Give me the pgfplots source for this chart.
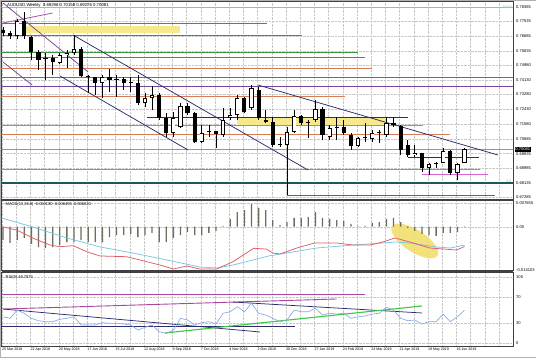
\documentclass[border=0pt]{standalone}
\usepackage{fontspec}
\setmainfont{Liberation Sans}
\usepackage{pgfplots}
\usepackage{pgfplotstable}
\pgfplotsset{compat=1.18}

\definecolor{mtgreen}{RGB}{60,150,60}
\definecolor{mtorange}{RGB}{215,125,85}
\definecolor{mtsalmon}{RGB}{225,120,100}
\definecolor{mtmagenta}{RGB}{170,70,160}
\definecolor{mtpurple}{RGB}{120,70,150}
\definecolor{mtnavy}{RGB}{45,45,110}
\definecolor{mtteal}{RGB}{30,85,95}
\definecolor{mtcyan}{RGB}{120,200,210}
\definecolor{mtyellow}{RGB}{248,232,140}
\definecolor{mthist}{RGB}{110,110,90}
\definecolor{mtred}{RGB}{220,95,105}
\definecolor{mtblue}{RGB}{120,200,230}
\definecolor{rsiblue}{RGB}{130,170,230}
\definecolor{rsigreen}{RGB}{60,200,60}
\definecolor{ellipsey}{RGB}{242,222,110}
\definecolor{lowpurple}{RGB}{100,90,170}
\definecolor{lightmag}{RGB}{215,100,215}

\pgfplotstableread{
i O H L C
2 0.76694 0.77685 0.76519 0.77569
8 0.75120 0.75703 0.75062 0.75586
9 0.75586 0.75878 0.74829 0.75703
10 0.75703 0.76752 0.75586 0.75936
14 0.73954 0.74420 0.73080 0.74304
20 0.72788 0.73371 0.72555 0.73080
21 0.73080 0.73779 0.72380 0.73254
24 0.71039 0.72263 0.70806 0.71914
25 0.71389 0.72788 0.71331 0.72613
28 0.70514 0.71505 0.70456 0.71039
31 0.70922 0.72497 0.70806 0.71797
32 0.71914 0.72497 0.71797 0.72088
33 0.72088 0.73254 0.71797 0.73080
35 0.72497 0.73837 0.72380 0.73663
40 0.70339 0.71389 0.67400 0.71097
41 0.71097 0.72380 0.71039 0.72030
44 0.71797 0.72963 0.71680 0.72438
46 0.70806 0.71505 0.70631 0.71331
47 0.71331 0.71972 0.70631 0.71389
50 0.70281 0.70806 0.70223 0.70748
52 0.70689 0.71214 0.70514 0.71039
54 0.70922 0.71972 0.70806 0.71622
58 0.69756 0.70339 0.69640 0.69873
60 0.68999 0.69290 0.68590 0.69232
62 0.69290 0.70165 0.69290 0.69990
64 0.68707 0.69290 0.68299 0.69232
65 0.69296 0.70158 0.69276 0.70081
}\bull

\pgfplotstableread{
i O H L C
0 0.77044 0.77219 0.76694 0.76869
1 0.76869 0.76986 0.76519 0.76694
3 0.77569 0.78093 0.76519 0.76694
4 0.76636 0.76694 0.75295 0.75761
5 0.75761 0.75878 0.74712 0.75295
6 0.75412 0.75703 0.74129 0.75380
7 0.75412 0.75586 0.74420 0.75178
11 0.75936 0.76053 0.74304 0.74362
12 0.74362 0.74420 0.73371 0.74330
13 0.74304 0.74330 0.73254 0.73954
15 0.74304 0.74770 0.73429 0.74129
16 0.74129 0.74420 0.73138 0.74100
17 0.74187 0.74304 0.73546 0.73954
18 0.73954 0.74304 0.73429 0.73930
19 0.73954 0.74420 0.72671 0.72788
22 0.73254 0.73371 0.71797 0.71914
23 0.71914 0.72205 0.70806 0.71039
26 0.72613 0.72788 0.72088 0.72205
27 0.72205 0.72263 0.70456 0.70514
29 0.71097 0.71505 0.70806 0.71070
30 0.71156 0.71180 0.70165 0.70981
34 0.73080 0.73138 0.72205 0.72263
36 0.73546 0.73721 0.71797 0.71914
37 0.71797 0.72380 0.71622 0.71680
38 0.71680 0.71972 0.70223 0.70339
39 0.70360 0.70806 0.70223 0.70339
42 0.72030 0.72088 0.71505 0.71622
43 0.71680 0.71797 0.70748 0.71622
45 0.72438 0.72555 0.70631 0.70922
48 0.71389 0.71797 0.70922 0.71039
49 0.70922 0.71039 0.70048 0.70281
51 0.70770 0.71622 0.70514 0.70748
53 0.71060 0.71214 0.70456 0.71039
55 0.71622 0.71972 0.71389 0.71505
56 0.71447 0.71505 0.69756 0.70048
57 0.70339 0.70631 0.69640 0.69756
59 0.69873 0.69900 0.68765 0.68999
61 0.69250 0.69348 0.68999 0.69232
63 0.69990 0.70048 0.68590 0.68707
}\bear

\pgfplotstableread{
i v
0 -0.00434
1 -0.00531
2 -0.00434
3 -0.00368
4 -0.00564
5 -0.00662
6 -0.00694
7 -0.00662
8 -0.00597
9 -0.00499
10 -0.00499
11 -0.00434
12 -0.00499
13 -0.00499
14 -0.00499
15 -0.00336
16 -0.00271
17 -0.00271
18 -0.00238
19 -0.00336
20 -0.00271
21 -0.00205
22 -0.00499
23 -0.00499
24 -0.00368
25 -0.00271
26 -0.00173
27 -0.00271
28 -0.00271
29 -0.00205
30 -0.00140
31 0.00023
32 0.00251
33 0.00479
34 0.00544
35 0.00740
36 0.00610
37 0.00544
38 0.00218
39 0.00055
40 0.00153
41 0.00284
42 0.00284
43 0.00316
44 0.00479
45 0.00284
46 0.00251
47 0.00218
48 0.00186
49 0.00088
50 0.00023
51 0.00023
52 0.00121
53 0.00153
54 0.00251
55 0.00284
56 0.00153
57 -0.00042
58 -0.00140
59 -0.00238
60 -0.00271
61 -0.00303
62 -0.00205
63 -0.00205
64 -0.00173
65 -0.00013
}\hist

\pgfplotstableread{
i v
-0.21 0.00000
1.93 -0.00108
4.27 -0.00379
6.62 -0.00597
8.03 -0.00652
9.9 -0.00619
11.8 -0.00815
13.66 -0.00955
17.4 -0.00978
19.3 -0.01086
22.1 -0.01249
24 -0.01379
25.9 -0.01281
27.7 -0.01379
30.1 -0.01379
32.4 -0.01140
35.3 -0.00704
37.1 -0.00730
38.0 -0.00857
39 -0.00890
41.4 -0.00694
43.9 -0.00531
47 -0.00531
49.3 -0.00597
51.7 -0.00597
53.5 -0.00499
55.2 -0.00368
57.3 -0.00499
60.1 -0.00694
62 -0.00727
63.9 -0.00760
65 -0.00646
}\macdred

\pgfplotstableread{
i v
-0.21 0.00284
4.2 -0.00010
9.0 -0.00368
13.7 -0.00662
18.3 -0.00857
23.1 -0.01086
27.7 -0.01314
30.1 -0.01346
32.4 -0.01249
37.4 -0.00955
44.2 -0.00694
49.3 -0.00597
55.5 -0.00499
57.3 -0.00531
61.1 -0.00662
63 -0.00694
65 -0.00602
}\macdblue

\pgfplotstableread{
i v
0 39.8
1 37.4
2 50.0
3 45.0
4 37.4
5 33.8
6 32.3
7 32.3
8 35.9
9 37.4
10 39.8
11 27.3
12 27.3
13 27.3
14 30.8
15 29.8
16 29.8
17 28.8
18 27.3
19 19.7
20 23.8
21 27.3
22 17.1
23 14.7
24 19.7
25 37.4
26 34.8
27 27.3
28 30.8
29 32.3
30 28.8
31 45.0
32 47.4
33 55.0
34 47.4
35 60.2
36 45.0
37 42.4
38 37.4
39 32.3
40 34.8
41 50.0
42 47.4
43 47.4
44 52.6
45 42.4
46 45.0
47 43.9
48 45.0
49 37.4
50 39.8
51 40.9
52 43.9
53 45.0
54 54.1
55 50.0
56 37.4
57 33.8
58 34.8
59 28.8
60 32.3
61 32.3
62 43.9
63 32.3
64 39.8
65 49.8
}\rsi

\pgfplotsset{
  mtbase/.style={
    scale only axis, width=511.5pt, xmin=-0.21, xmax=71.83,
    anchor=north west,
    axis line style={draw=black!75, line width=0.7pt},
    tick style={draw=none},
    xtick={-0.15,1.85,...,69.85}, xticklabels={},
    xmajorgrids, ymajorgrids,
    grid style={densely dotted, black!22, line width=0.3pt},
    ytick pos=right, yticklabel pos=right,
    yticklabel style={font=\fontsize{4.1}{4.5}\selectfont, anchor=west, xshift=2.5pt, inner sep=0.5pt},
    scaled y ticks=false,
  },
  hl/.style={line width=0.75pt, forget plot},
}

\begin{document}
\begin{tikzpicture}
\path[use as bounding box] (0,0) rectangle (536pt,-358pt);
\fill[white] (0,0) rectangle (536pt,-358pt);

% ---------------- main price panel ----------------
\begin{axis}[mtbase, at={(1.5pt,-1.5pt)}, height=197.5pt,
  ymin=0.67191, ymax=0.78706,
  ytick={0.78385,0.77535,0.76685,0.75835,0.74980,0.74130,0.73280,0.72430,0.71580,0.70685,0.69835,0.68985,0.68135,0.67285},
  yticklabels={0.78385,0.77535,0.76685,0.75835,0.74980,0.74130,0.73280,0.72430,0.71580,0.70685,0.69835,0.68985,0.68135,0.67285},
]
\fill[mtyellow] (axis cs:3.1,0.77277) rectangle (axis cs:24.9,0.76869);
\fill[mtyellow] (axis cs:33,0.71972) rectangle (axis cs:53.8,0.71505);

\addplot[hl, mtcyan, line width=0.7pt] coordinates {(-0.3,0.78385) (72,0.78385)};
\addplot[hl, mtgreen] coordinates {(-0.3,0.77452) (37.2,0.77452)};
\addplot[hl, mtgreen] coordinates {(-0.3,0.76752) (42.1,0.76752)};
\addplot[hl, mtgreen] coordinates {(-0.3,0.75761) (50,0.75761)};
\addplot[hl, mtgreen] coordinates {(-0.3,0.75470) (51,0.75470)};
\addplot[hl, mtorange] coordinates {(-0.3,0.74829) (52,0.74829)};
\addplot[hl, mtmagenta, line width=0.9pt] coordinates {(-0.3,0.74304) (72,0.74304)};
\addplot[hl, mtpurple, line width=0.9pt] coordinates {(-0.3,0.73779) (72,0.73779)};
\addplot[hl, mtorange] coordinates {(-0.3,0.73196) (48.2,0.73196)};
\addplot[hl, mtorange] coordinates {(-0.3,0.71505) (59.2,0.71505)};
\addplot[hl, mtorange] coordinates {(-0.3,0.70981) (63,0.70981)};
\addplot[hl, mtsalmon] coordinates {(-0.3,0.70106) (72,0.70106)};
\addplot[hl, mtorange] coordinates {(-0.3,0.68940) (67.2,0.68940)};
\addplot[hl, mtteal, line width=1.1pt] coordinates {(-0.3,0.68124) (72,0.68124)};
\addplot[hl, mtnavy] coordinates {(20.3,0.71972) (57,0.71972)};
\addplot[hl, mtnavy] coordinates {(57,0.69640) (67,0.69640)};
\addplot[hl, lightmag] coordinates {(59,0.68649) (68.3,0.68649)};
\addplot[hl, lowpurple] coordinates {(40,0.67424) (69.3,0.67424)};
\addplot[hl, mtnavy] coordinates {(9.86,0.76752) (42.96,0.68882)};
\addplot[hl, mtnavy] coordinates {(8.03,0.74362) (26.06,0.70048)};
\addplot[hl, mtnavy] coordinates {(35.9,0.73838) (69.7,0.69757)};
\addplot[hl, mtpurple] coordinates {(0,0.78618) (12,0.74595)};
\addplot[hl, mtpurple] coordinates {(0,0.75178) (4.1,0.73838)};
\addplot[hl, mtmagenta] coordinates {(0,0.77452) (7,0.78035)};

% wicks
\addplot[draw=none, mark=none, forget plot, error bars/.cd, y dir=plus, y explicit, error mark=none,
  error bar style={draw=black, line width=0.7pt}]
  table[x=i, y=L, y error plus expr={\thisrow{H}-\thisrow{L}}] {\bear};
\addplot[draw=none, mark=none, forget plot, error bars/.cd, y dir=plus, y explicit, error mark=none,
  error bar style={draw=black, line width=0.7pt}]
  table[x=i, y=L, y error plus expr={\thisrow{H}-\thisrow{L}}] {\bull};
% bodies
\addplot[draw=none, mark=none, forget plot, error bars/.cd, y dir=plus, y explicit, error mark=none,
  error bar style={draw=black, line width=4.2pt}]
  table[x=i, y expr={min(\thisrow{O},\thisrow{C})}, y error plus expr={max(abs(\thisrow{C}-\thisrow{O}),0.0006)}] {\bear};
\addplot[draw=none, mark=none, forget plot, error bars/.cd, y dir=plus, y explicit, error mark=none,
  error bar style={draw=black, line width=4.2pt}]
  table[x=i, y=O, y error plus expr={max(\thisrow{C}-\thisrow{O},0.0006)}] {\bull};
\addplot[draw=none, mark=none, forget plot, error bars/.cd, y dir=plus, y explicit, error mark=none,
  error bar style={draw=white, line width=2.8pt}]
  table[x=i, y expr={\thisrow{O}+0.0004}, y error plus expr={max(\thisrow{C}-\thisrow{O}-0.0008,0)}] {\bull};

\node[anchor=north west, inner sep=0pt, font=\fontsize{4.3}{5}\selectfont] at (rel axis cs:0,1) [xshift=5.5pt, yshift=-1.8pt] {AUDUSD,Weekly\ \ 0.69296 0.70158 0.69276 0.70081};
\node[anchor=east, inner sep=0.3pt, text=mtcyan, font=\fontsize{3.6}{4}\selectfont] at (axis cs:71.7,0.78385) {100.0};
\node[anchor=south east, inner sep=0.5pt, text=mtcyan, font=\fontsize{3.6}{4}\selectfont] at (axis cs:71.7,0.68124) {0.0};
\coordinate (cp) at (axis cs:71.83,0.70081);
\end{axis}
\node[fill=black, text=white, inner sep=0.7pt, anchor=west, font=\fontsize{4.1}{4.5}\selectfont] at ([xshift=1.5pt]cp) {0.70081};

% ---------------- MACD panel ----------------
\begin{axis}[mtbase, at={(1.5pt,-200.5pt)}, height=70pt,
  ymin=-0.01428, ymax=0.00854,
  ytick={0.007655,0,-0.014103}, yticklabels={0.007655,0.00,-0.014103},
]
\fill[ellipsey, opacity=0.9, rotate around={-33:(axis cs:58,-0.00466)}] (axis cs:58,-0.00466) ellipse [x radius=27pt, y radius=11pt];
\addplot[ybar, bar width=1.3pt, fill=mthist, draw=none, forget plot] table[x=i, y=v] {\hist};
\addplot[mtblue, line width=0.75pt, forget plot] table[x=i, y=v] {\macdblue};
\addplot[mtred, line width=0.75pt, forget plot] table[x=i, y=v] {\macdred};
\node[anchor=north west, inner sep=0pt, font=\fontsize{4}{5}\selectfont] at (rel axis cs:0,1) [xshift=4pt, yshift=-2pt] {MACD(12,26,9) -0.000130 -0.006455 -0.006020};
\end{axis}

% ---------------- RSI panel ----------------
\begin{axis}[mtbase, at={(1.5pt,-272pt)}, height=74.5pt,
  ymin=-5.3, ymax=107.6,
  ytick={0,30,70,100}, yticklabels={0,30,70,100},
  xticklabels={25 Mar 2018,,22 Apr 2018,,20 May 2018,,17 Jun 2018,,15 Jul 2018,,12 Aug 2018,,9 Sep 2018,,7 Oct 2018,,4 Nov 2018,,2 Dec 2018,,30 Dec 2018,,27 Jan 2019,,24 Feb 2019,,24 Mar 2019,,21 Apr 2019,,19 May 2019,,16 Jun 2019},
  xticklabel style={font=\fontsize{3.6}{4}\selectfont, anchor=north west, inner sep=0.8pt, xshift=-0.8pt},
]
\addplot[hl, mtmagenta, line width=0.9pt] coordinates {(-0.3,74.2) (51,74.2)};
\addplot[hl, mtmagenta, line width=0.9pt] coordinates {(0,51.5) (47,66.7)};
\addplot[hl, mtnavy] coordinates {(0,51.5) (36.2,16.7)};
\addplot[hl, mtnavy] coordinates {(32.4,62.1) (59,45.5)};
\addplot[hl, mtnavy] coordinates {(-0.3,24.7) (41.1,24.7)};
\addplot[hl, rsigreen, line width=1.1pt] coordinates {(22.8,15.2) (59,56.1)};
\addplot[rsiblue, line width=0.65pt, forget plot] table[x=i, y=v] {\rsi};
\node[anchor=north west, inner sep=0pt, font=\fontsize{4}{5}\selectfont] at (rel axis cs:0,1) [xshift=4pt, yshift=-3pt] {RSI(9) 49.7873};
\end{axis}

\draw[black!75, line width=2pt] (1.5pt,-199.75pt) -- (513pt,-199.75pt);
\draw[black!75, line width=2pt] (1.5pt,-271.25pt) -- (513pt,-271.25pt);
\draw[black!30, line width=0.5pt] (0.25pt,-0.25pt) rectangle (535.75pt,-357.75pt);
\end{tikzpicture}
\end{document}
